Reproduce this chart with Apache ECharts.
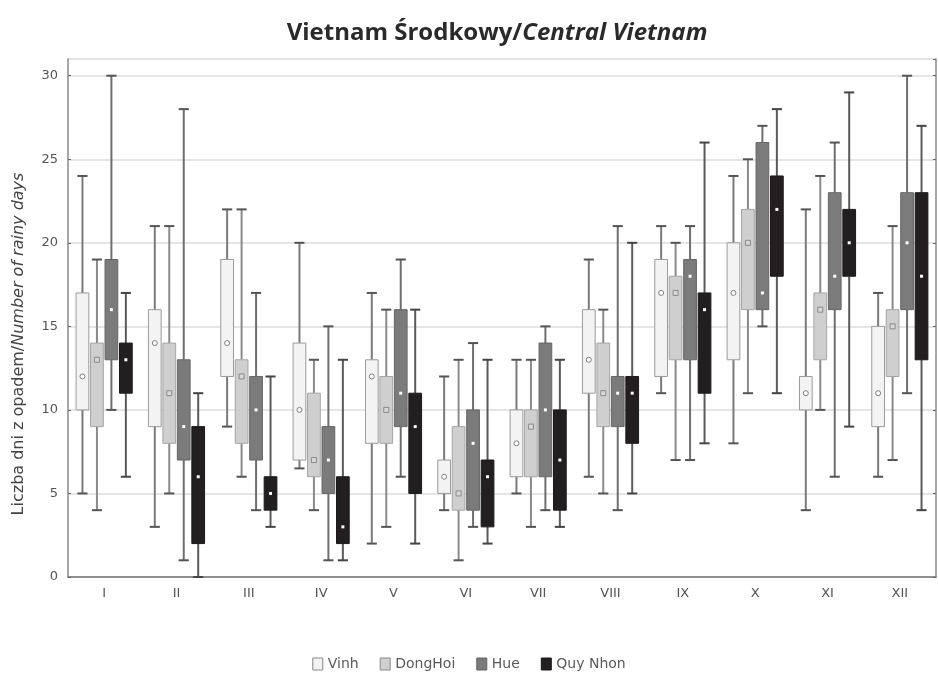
<!DOCTYPE html>
<html>
<head>
<meta charset="utf-8">
<script src="https://cdn.jsdelivr.net/npm/echarts@6/dist/echarts.min.js"></script>
<style>html,body{margin:0;padding:0;background:#fff;}#c{width:938px;height:680px;}</style>
</head>
<body>
<div id="c"></div>
<script>
// Month categories (tick labels)
const months = ['I','II','III','IV','V','VI','VII','VIII','IX','X','XI','XII'];
const seriesNames = ['Vinh', 'DongHoi', 'Hue', 'Quy Nhon'];

// Each entry: [min, q1, median, q3, max] (number of rainy days)
const vinh = [
  [5,10,12,17,24],[3,9,14,16,21],[9,12,14,19,22],[6.5,7,10,14,20],
  [2,8,12,13,17],[4,5,6,7,12],[5,6,8,10,13],[6,11,13,16,19],
  [11,12,17,19,21],[8,13,17,20,24],[4,10,11,12,22],[6,9,11,15,17]
];
const dongHoi = [
  [4,9,13,14,19],[5,8,11,14,21],[6,8,12,13,22],[4,6,7,11,13],
  [3,8,10,12,16],[1,4,5,9,13],[3,6,9,10,13],[5,9,11,14,16],
  [7,13,17,18,20],[11,16,20,22,25],[10,13,16,17,24],[7,12,15,16,21]
];
const hue = [
  [10,13,16,19,30],[1,7,9,13,28],[4,7,10,12,17],[1,5,7,9,15],
  [6,9,11,16,19],[3,4,8,10,14],[4,6,10,14,15],[4,9,11,12,21],
  [7,13,18,19,21],[15,16,17,26,27],[6,16,18,23,26],[11,16,20,23,30]
];
const quyNhon = [
  [6,11,13,14,17],[0,2,6,9,11],[3,4,5,6,12],[1,2,3,6,13],
  [2,5,9,11,16],[2,3,6,7,13],[3,4,7,10,13],[5,8,11,12,20],
  [8,11,16,17,26],[11,18,22,24,28],[9,18,20,22,29],[4,13,18,23,27]
];

const allData = [vinh, dongHoi, hue, quyNhon];
const styles = [
  {fill:'#f3f3f3', border:'#9a9a9a', whisker:'#7a7a7a', cap:'#555', medFill:'#ffffff', medStroke:'#808080', medType:'circle'},
  {fill:'#cfcfcf', border:'#a5a5a5', whisker:'#8a8a8a', cap:'#555', medFill:'#d8d8d8', medStroke:'#8a8a8a', medType:'square'},
  {fill:'#7b7b7b', border:'#656565', whisker:'#6e6e6e', cap:'#555', medFill:'#ffffff', medStroke:null, medType:'dot'},
  {fill:'#231f20', border:'#1a1a1a', whisker:'#5a5a5a', cap:'#444', medFill:'#ffffff', medStroke:null, medType:'dot'}
];

function makeRender(idx) {
  const st = styles[idx];
  return function (params, api) {
    const c = api.value(0);
    const band = api.size([1, 0])[0];
    const step = band * 0.2;
    const w = band * 0.176;
    const capW = band * 0.14;
    const x = api.coord([c, 0])[0] + (idx - 1.5) * step;
    const yMin = api.coord([c, api.value(1)])[1];
    const yQ1 = api.coord([c, api.value(2)])[1];
    const yMed = api.coord([c, api.value(3)])[1];
    const yQ3 = api.coord([c, api.value(4)])[1];
    const yMax = api.coord([c, api.value(5)])[1];
    const children = [
      {type:'line', shape:{x1:x, y1:yMax, x2:x, y2:yQ3}, style:{stroke:st.whisker, lineWidth:2}},
      {type:'line', shape:{x1:x, y1:yQ1, x2:x, y2:yMin}, style:{stroke:st.whisker, lineWidth:2}},
      {type:'line', shape:{x1:x - capW/2, y1:yMax, x2:x + capW/2, y2:yMax}, style:{stroke:st.cap, lineWidth:2}},
      {type:'line', shape:{x1:x - capW/2, y1:yMin, x2:x + capW/2, y2:yMin}, style:{stroke:st.cap, lineWidth:2}},
      {type:'rect', shape:{x:x - w/2, y:yQ3, width:w, height:yQ1 - yQ3}, style:{fill:st.fill, stroke:st.border, lineWidth:1}}
    ];
    if (st.medType === 'circle') {
      children.push({type:'circle', shape:{cx:x, cy:yMed, r:2.5}, style:{fill:st.medFill, stroke:st.medStroke, lineWidth:1}});
    } else if (st.medType === 'square') {
      children.push({type:'rect', shape:{x:x-2.5, y:yMed-2.5, width:5, height:5}, style:{fill:st.medFill, stroke:st.medStroke, lineWidth:1}});
    } else {
      children.push({type:'rect', shape:{x:x-1.5, y:yMed-1.5, width:3, height:3}, style:{fill:st.medFill}});
    }
    return {type:'group', children: children};
  };
}

const series = allData.map(function (arr, idx) {
  return {
    name: seriesNames[idx],
    type: 'custom',
    renderItem: makeRender(idx),
    itemStyle: {color: styles[idx].fill, borderColor: styles[idx].border, borderWidth: 1},
    encode: {x: 0, y: [1, 2, 3, 4, 5]},
    data: arr.map(function (v, i) { return [i].concat(v); }),
    xAxisIndex: 0, yAxisIndex: 0
  };
});

const labelFont = 'DejaVu Sans';
const chart = echarts.init(document.getElementById('c'));
chart.setOption({
  animation: false,
  backgroundColor: '#ffffff',
  title: {
    text: '{a|Vietnam Środkowy/}{b|Central Vietnam}',
    left: 492, top: 16, textAlign: 'center',
    textStyle: {
      rich: {
        a: {fontFamily: 'Open Sans', fontWeight: 'bold', fontSize: 24, color: '#2a2a2a'},
        b: {fontFamily: 'Open Sans', fontWeight: 'bold', fontStyle: 'italic', fontSize: 24, color: '#2a2a2a'}
      }
    }
  },
  legend: {
    data: seriesNames.map(function (n, i) {
      return {name: n, icon: 'rect', itemStyle: {color: styles[i].fill, borderColor: i < 2 ? '#888' : styles[i].border, borderWidth: 1}};
    }),
    left: 'center', top: 652,
    itemWidth: 10, itemHeight: 12, itemGap: 21,
    textStyle: {fontFamily: labelFont, fontSize: 14, color: '#5a5a5a'}
  },
  graphic: [{
    type: 'text', x: 19, y: 344, rotation: Math.PI / 2,
    style: {
      text: '{a|Liczba dni z opadem/}{b|Number of rainy days}',
      align: 'center', verticalAlign: 'middle',
      rich: {
        a: {fontFamily: labelFont, fontSize: 16, fill: '#444'},
        b: {fontFamily: labelFont, fontStyle: 'italic', fontSize: 16, fill: '#444'}
      }
    }
  }],
  grid: {left: 68, right: 2, top: 59, bottom: 103},
  xAxis: [
    {
      type: 'category', data: months, position: 'bottom', boundaryGap: true,
      axisLine: {lineStyle: {color: '#8a8a8a', width: 1.5}},
      axisTick: {alignWithLabel: true, inside: true, length: 3, lineStyle: {color: '#666'}},
      axisLabel: {fontFamily: labelFont, fontSize: 13, color: '#555', margin: 10},
      splitLine: {show: false}
    },
    {
      type: 'category', data: months, position: 'top', boundaryGap: true,
      axisLine: {show: true, lineStyle: {color: '#8a8a8a', width: 1.5}},
      axisTick: {alignWithLabel: true, inside: true, length: 3, lineStyle: {color: '#666'}},
      axisLabel: {show: false}
    }
  ],
  yAxis: [
    {
      type: 'value', min: 0, max: 31, interval: 5,
      axisLine: {show: true, lineStyle: {color: '#8a8a8a', width: 1.5}},
      axisTick: {show: true, inside: true, length: 3, lineStyle: {color: '#666'}},
      axisLabel: {showMaxLabel: false, fontFamily: labelFont, fontSize: 13, color: '#555', margin: 10},
      splitLine: {show: true, lineStyle: {color: '#dcdcdc', width: 1.5}}
    },
    {
      type: 'value', min: 0, max: 31, interval: 5, position: 'right',
      axisLine: {show: true, lineStyle: {color: '#8a8a8a', width: 1.5}},
      axisTick: {show: true, inside: true, length: 3, lineStyle: {color: '#666'}},
      axisLabel: {show: false},
      splitLine: {show: false}
    }
  ],
  series: series
});
</script>
</body>
</html>
